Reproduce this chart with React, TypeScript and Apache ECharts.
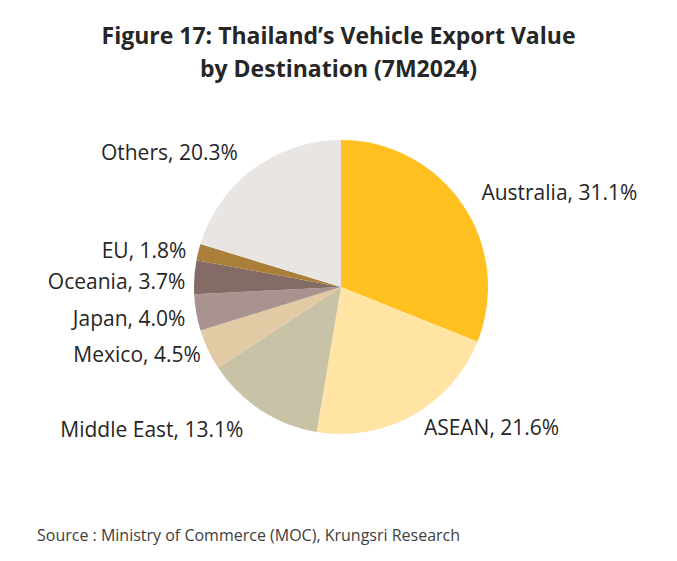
import React, { useEffect, useRef } from "react";
import * as echarts from "echarts";

const categories = ["Australia", "ASEAN", "Middle East", "Mexico", "Japan", "Oceania", "EU", "Others"];
const values = [31.1, 21.6, 13.1, 4.5, 4.0, 3.7, 1.8, 20.3];
const colors = ["#FFC020", "#FFE4A3", "#C8C2A6", "#E2CAA5", "#A89390", "#846B66", "#A97F3A", "#E8E5E3"];
// small nudges for label placement [dx, dy]
const labelNudge = [[7, -8], [2, 5], [-8, 12], [5, 1], [2, 4], [4, 4], [1, 0], [-6, -10]];

export default function App() {
  const ref = useRef<HTMLDivElement>(null);
  useEffect(() => {
    if (!ref.current) return;
    const chart = echarts.init(ref.current, null, { renderer: "svg" });
    const font = "'Open Sans', 'Noto Sans', sans-serif";
    chart.setOption({
      animation: false,
      backgroundColor: "#ffffff",
      title: [
        {
          text: "Figure 17: Thailand\u2019s Vehicle Export Value\nby Destination (7M2024)",
          left: "center",
          top: 13,
          textStyle: { fontFamily: font, fontSize: 23, fontWeight: "bold", color: "#262626", lineHeight: 33 },
        },
        {
          text: "Source : Ministry of Commerce (MOC), Krungsri Research",
          left: 32,
          top: 522,
          textStyle: { fontFamily: font, fontSize: 16, fontWeight: "normal", color: "#404040" },
        },
      ],
      series: [
        {
          type: "pie",
          center: [341, 287],
          radius: [0, 147],
          startAngle: 90,
          clockwise: true,
          avoidLabelOverlap: false,
          itemStyle: { borderWidth: 0 },
          label: {
            show: true,
            position: "outside",
            formatter: (p: any) => `${p.name}, ${p.value.toFixed(1)}%`,
            fontFamily: font,
            fontSize: 21,
            color: "#262626",
          },
          labelLayout: (p: any) => ({ dx: labelNudge[p.dataIndex][0], dy: labelNudge[p.dataIndex][1] }),
          labelLine: { show: false, length: 8, length2: 0 },
          data: categories.map((c, i) => ({ name: c, value: values[i], itemStyle: { color: colors[i] } })),
        },
      ],
    });
    return () => chart.dispose();
  }, []);
  return <div ref={ref} style={{ position: "fixed", left: 0, top: 0, width: 677, height: 561 }} />;
}
